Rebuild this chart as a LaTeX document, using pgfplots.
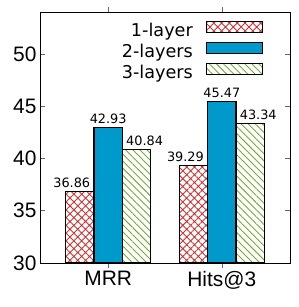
\documentclass[border=0pt]{standalone}
\usepackage{fontspec}
\setmainfont{Liberation Sans}
\newfontfamily\dejavu{DejaVu Sans}
\usepackage{pgfplots}
\pgfplotsset{compat=1.18}
\usetikzlibrary{patterns.meta}
\definecolor{cblue}{RGB}{0,153,204}
\definecolor{cred}{RGB}{204,51,51}
\definecolor{cgreen}{RGB}{119,170,51}
\begin{document}
\begin{tikzpicture}
\begin{axis}[
 scale only axis, width=250bp, height=251bp,
 xmin=-0.6, xmax=1.6, ymin=30, ymax=54,
 xtick={0,1}, xticklabels={MRR,Hits@3},
 ytick={30,35,40,45,50},
 tick align=inside, major tick length=5bp,
 tick style={black!60, line width=0.5pt},
 ticklabel style={font=\fontsize{21}{24}\selectfont},
 /pgf/number format/assume math mode=true,
 ybar=0pt, bar width=0.25,
 axis line style={line width=0.6pt},
 legend style={draw=none, fill=none, at={(1,1)}, xshift=-27bp, yshift=-9.8bp, anchor=north east,
   font=\dejavu\fontsize{17.7}{20}\selectfont, inner sep=0pt, row sep=0pt, column sep=0pt,
   nodes={inner sep=0pt, text height=14bp, text depth=7bp}},
 legend cell align=right,
 legend plot pos=right,
 legend image code/.code={\path[draw=none,fill=none] (0bp,0bp) (70bp,0bp); \draw[#1, line width=1.2pt, overlay] (14bp,0bp) rectangle (70bp,11bp);},
 nodes near coords={\pgfmathprintnumber[fixed,precision=2,fixed zerofill]{\pgfplotspointmeta}},
 nodes near coords style={font=\dejavu\fontsize{12.9}{15}\selectfont, text=black},
]
\addplot[draw=black, line width=1.2pt, pattern={Hatch[angle=45,distance=5.5bp,line width=0.9pt]}, pattern color=cred, bar shift=-0.25, nodes near coords style={xshift=-8bp}]
 coordinates {(0,36.86) (1,39.29)};
\addlegendentry{1-layer}
\addplot[draw=black, line width=1.2pt, fill=cblue, bar shift=0]
 coordinates {(0,42.93) (1,45.47)};
\addlegendentry{2-layers}
\addplot[draw=black, line width=1.2pt, pattern={Lines[angle=-45,distance=5bp,line width=0.9pt]}, pattern color=cgreen, bar shift=0.25, nodes near coords style={xshift=8bp}]
 coordinates {(0,40.84) (1,43.34)};
\addlegendentry{3-layers}
\end{axis}
\pgfresetboundingbox
\path (current axis.south west) ++(-40bp,-44bp) rectangle ([shift={(9bp,12bp)}]current axis.north east);
\end{tikzpicture}
\end{document}
